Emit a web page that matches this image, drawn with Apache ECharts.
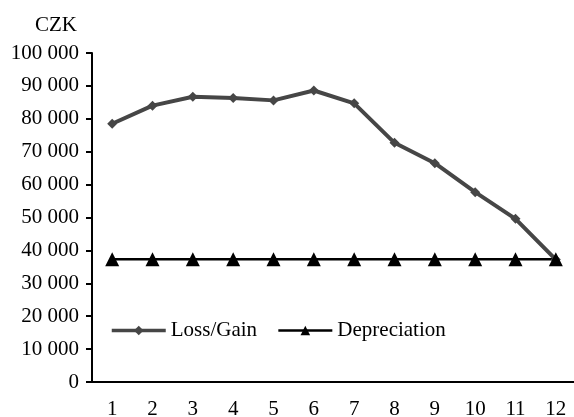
<!DOCTYPE html>
<html>
<head>
<meta charset="utf-8">
<script src="https://cdn.jsdelivr.net/npm/echarts@6/dist/echarts.min.js"></script>
<style>
  html, body { margin: 0; padding: 0; background: #fff; }
  #chart { width: 574px; height: 417px; }
</style>
</head>
<body>
<div id="chart"></div>
<script>
// years of the vehicle's life
var years = ['1', '2', '3', '4', '5', '6', '7', '8', '9', '10', '11', '12'];
var lossGain = [78500, 84000, 86700, 86300, 85600, 88600, 84700, 72700, 66500, 57700, 49600, 37200];
var depreciation = [37300, 37300, 37300, 37300, 37300, 37300, 37300, 37300, 37300, 37300, 37300, 37300];

var font = "'Liberation Serif', serif";
var chart = echarts.init(document.getElementById('chart'));

chart.setOption({
  animation: false,
  textStyle: { fontFamily: font, color: '#000' },
  graphic: [{
    type: 'text',
    left: 35,
    top: 15,
    style: { text: 'CZK', fontFamily: font, fontSize: 21, fill: '#000' }
  }],
  grid: { left: 92, top: 53, bottom: 35, width: 484, outerBoundsMode: 'none', containLabel: false },
  legend: {
    left: 105,
    top: 315,
    itemWidth: 54,
    itemHeight: 12,
    itemGap: 20,
    textStyle: { fontFamily: font, fontSize: 21, color: '#000' },
    data: [
      { name: 'Loss/Gain', lineStyle: { width: 3.5 } },
      { name: 'Depreciation', lineStyle: { width: 2.5 } }
    ]
  },
  xAxis: {
    type: 'category',
    data: years,
    boundaryGap: true,
    axisLine: { lineStyle: { color: '#000', width: 2 } },
    axisTick: { length: 6, lineStyle: { color: '#000', width: 2 } },
    axisLabel: { margin: 17, fontSize: 21, color: '#000', fontFamily: font }
  },
  yAxis: {
    type: 'value',
    min: 0,
    max: 100000,
    interval: 10000,
    splitLine: { show: false },
    axisLine: { show: true, lineStyle: { color: '#000', width: 2 } },
    axisTick: { show: true, length: 6, lineStyle: { color: '#000', width: 2 } },
    axisLabel: {
      margin: 13, fontSize: 21, color: '#000', fontFamily: font,
      padding: [0, 0, 7, 0],
      formatter: function (v) {
        return v === 0 ? '0' : String(v).replace(/\B(?=(\d{3})+(?!\d))/g, ' ');
      }
    }
  },
  series: [
    {
      name: 'Loss/Gain',
      type: 'line',
      data: lossGain,
      symbol: 'diamond',
      symbolSize: 10,
      color: '#464646',
      lineStyle: { color: '#464646', width: 4 },
      itemStyle: { color: '#464646' }
    },
    {
      name: 'Depreciation',
      type: 'line',
      data: depreciation,
      symbol: 'triangle',
      symbolSize: 14,
      color: '#000',
      lineStyle: { color: '#000', width: 2.5 },
      itemStyle: { color: '#000' }
    }
  ]
});
</script>
</body>
</html>
